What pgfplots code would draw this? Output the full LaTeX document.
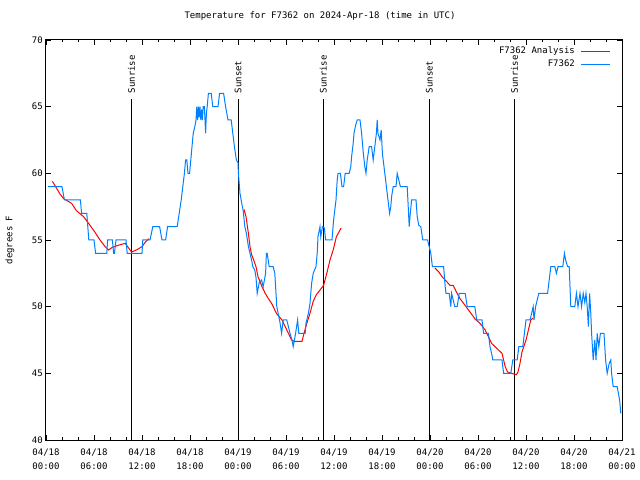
\documentclass[border=0pt]{standalone}
\usepackage{fontspec}
\setmainfont{DejaVu Sans Mono}
\usepackage{pgfplots}
\pgfplotsset{compat=1.18}
\definecolor{cred}{RGB}{255,0,0}
\definecolor{cblue}{RGB}{0,128,255}
\begin{document}
\fontsize{9bp}{11bp}\selectfont
\begin{tikzpicture}
\path[use as bounding box] (0,0) rectangle (640bp,480bp);
\begin{axis}[
  at={(46bp,40bp)}, anchor=south west,
  scale only axis, width=576bp, height=400bp,
  xmin=0, xmax=72, ymin=40, ymax=70,
  xtick={0,6,...,72}, minor x tick num=2,
  ytick={40,45,...,70},
  xticklabels={04/18\\00:00,04/18\\06:00,04/18\\12:00,04/18\\18:00,04/19\\00:00,04/19\\06:00,04/19\\12:00,04/19\\18:00,04/20\\00:00,04/20\\06:00,04/20\\12:00,04/20\\18:00,04/21\\00:00},
  xticklabel style={align=center, font=\fontsize{9bp}{14bp}\selectfont, yshift=-6bp},
  yticklabel style={font=\fontsize{9bp}{11bp}\selectfont},
  /pgf/number format/assume math mode=true,
  tick align=inside,
  major tick length=5bp, minor tick length=2.5bp,
  every tick/.style={black, line width=0.8bp},
  axis line style={line width=1bp},
  ylabel={degrees F},
  ylabel style={at={(axis description cs:-0.0625,0.5)}, anchor=center, font=\fontsize{9bp}{11bp}\selectfont},
  title={Temperature for F7362 on 2024-Apr-18 (time in UTC)},
  title style={at={(axis description cs:0.4757,1.04)}, anchor=base, font=\fontsize{9bp}{11bp}\selectfont},
  legend plot pos=right,
  legend cell align=right,
  legend image code/.code={\draw[#1, line width=1bp] (0bp,0bp) -- (29bp,0bp);},
  legend style={draw=none, fill=none, at={(axis description cs:0.981,0.986)}, anchor=north east,
    inner sep=0pt, row sep=2bp, column sep=5bp, font=\fontsize{9bp}{11bp}\selectfont,
    nodes={inner sep=1bp, text height=7bp, text depth=2bp}},
]
% sunrise / sunset markers
\addplot[black, line width=1bp, forget plot] coordinates {(10.7,40) (10.7,65.6)};
\addplot[black, line width=1bp, forget plot] coordinates {(24.02,40) (24.02,65.6)};
\addplot[black, line width=1bp, forget plot] coordinates {(34.66,40) (34.66,65.6)};
\addplot[black, line width=1bp, forget plot] coordinates {(47.92,40) (47.92,65.6)};
\addplot[black, line width=1bp, forget plot] coordinates {(58.55,40) (58.55,65.6)};
\node[rotate=90, anchor=west, inner sep=0pt] at (axis cs:10.7,66.0) {Sunrise};
\node[rotate=90, anchor=west, inner sep=0pt] at (axis cs:24.02,66.0) {Sunset};
\node[rotate=90, anchor=west, inner sep=0pt] at (axis cs:34.66,66.0) {Sunrise};
\node[rotate=90, anchor=west, inner sep=0pt] at (axis cs:47.92,66.0) {Sunset};
\node[rotate=90, anchor=west, inner sep=0pt] at (axis cs:58.55,66.0) {Sunrise};
% analysis
\addplot[cred, line width=1bp, unbounded coords=jump] coordinates {
(0.8,59.4)(1.2,59)(1.75,58.45)(2.2,58.1)(3.2,57.75)(3.8,57.2)(4.7,56.75)(5.5,56.1)(6.1,55.6)(6.75,55)(7.4,54.5)(7.8,54.25)(8.3,54.45)(9.0,54.6)(9.9,54.75)(10.2,54.5)(10.7,54.1)(11.3,54.25)(12.0,54.5)(12.5,54.9)(12.9,55.1)
(13.0,nan)
(24.75,57.3)(25.0,56.75)(25.3,55.5)(25.5,54.5)(25.7,53.9)(25.9,53.6)(26.25,53)(26.5,52.25)(27.0,51.5)(27.4,51)(27.8,50.6)(28.2,50.25)(28.8,49.5)(29.5,49)(29.9,48.5)(30.3,48)(30.7,47.5)(31.0,47.4)(32.0,47.4)(32.25,48)(32.6,48.75)(33.0,49.5)(33.4,50.4)(33.8,50.9)(34.25,51.25)(34.7,51.6)(35.1,52.5)(35.5,53.5)(35.9,54.25)(36.3,55.25)(36.9,55.9)
(37.0,nan)
(48.6,52.9)(49.1,52.6)(49.5,52.25)(49.9,52)(50.5,51.6)(50.9,51.6)(51.3,51.1)(51.75,50.6)(52.2,50.25)(53.0,49.6)(53.6,49.1)(54.25,48.75)(54.9,48.25)(55.3,47.75)(55.7,47.25)(56.3,46.9)(57.0,46.5)(57.4,45.5)(57.7,45.1)(58.2,45)(58.8,44.9)(59.0,45.1)(59.25,45.75)(59.5,46.6)(59.75,47.05)(60.0,47.5)(60.2,48)(60.4,48.5)(60.6,49)(60.9,49.15)
};
\addlegendentry{F7362 Analysis}
% observations
\addplot[cblue, line width=1bp] coordinates {
(0.25,59)(2.0,59)(2.3,58)(4.3,58)(4.45,57)(5.1,57)(5.35,55)(6.0,55)(6.2,54)(7.6,54)(7.7,55)(8.3,55)(8.45,54)(8.55,54)(8.75,55)(10.0,55)(10.15,54)(12.0,54)(12.1,55)(13.0,55)(13.35,56)(14.2,56)(14.5,55)(14.95,55)(15.2,56)(16.4,56)(16.65,57)(16.9,58)(17.1,59)(17.3,60)(17.45,61)(17.6,61)(17.75,60)(17.95,60)(18.1,61)(18.25,62)(18.4,63)(18.6,63.5)(18.75,64)(18.85,65)(18.95,64)(19.05,65)(19.15,64.2)(19.25,65)(19.35,64)(19.45,64.8)(19.55,64)(19.65,65)(19.8,65)(19.95,63)(20.05,64.5)(20.15,65)(20.3,66)(20.65,66)(20.85,65)(21.5,65)(21.7,66)(22.2,66)(22.45,65)(22.75,64)(23.15,64)(23.35,63)(23.55,62)(23.8,61)(24.0,60.8)(24.05,60)
(24.25,58.5)(24.45,57.8)(24.65,57.2)(24.85,56)(25.05,55.5)(25.3,54.5)(25.5,54)(25.7,53.5)(25.85,53)(26.1,52.75)(26.25,52.2)(26.4,51)(26.65,51.8)(26.95,52)(27.15,51.5)(27.45,52.5)(27.55,54)(27.65,54)(27.9,53)(28.4,53)(28.6,52.5)(28.85,50)(29.05,49.4)(29.25,48.8)(29.45,48)(29.65,49)(30.1,49)(30.3,48.5)(30.5,48)(30.75,47.5)(30.9,47)(31.2,48)(31.45,49)(31.6,48)(32.4,48)(32.5,48.75)(32.8,49.5)(33.0,50.25)(33.2,51.75)(33.4,52.5)(33.75,53)(33.9,54)(34.0,55.25)(34.25,56)(34.35,55.25)(34.55,56)(34.8,55.9)(34.95,55)(35.75,55)(35.95,56.5)(36.25,58)(36.4,59.5)(36.5,60)(36.8,60)(37.0,59)(37.2,59)(37.4,60)(37.9,60)(38.1,60.5)(38.2,61.25)(38.4,62.25)(38.5,63)(38.7,63.6)(38.9,64)(39.25,64)(39.45,63)(39.65,61.6)(39.85,60.5)(40.0,60)(40.15,61)(40.4,62)(40.7,62)(40.9,61)(41.1,62)(41.3,63)(41.4,64)(41.5,63)(41.75,62.5)(41.9,63.25)(42.05,61.5)(42.25,60.5)(42.45,59.5)(42.6,58.75)(42.8,57.75)(42.95,57)(43.1,57.5)(43.2,58.25)(43.4,59)(43.75,59)(43.9,60)(44.1,59.5)(44.3,59)(45.15,59)(45.3,57.25)(45.4,56)(45.5,56.75)(45.7,58)(46.25,58)(46.4,56.75)(46.6,56.1)(46.85,56)(47.1,55)(47.7,55)(47.9,54.5)(48.1,54)(48.3,53)(49.7,53)(49.9,51.5)(50.0,51)(50.4,51)(50.6,50)(50.7,51)(50.9,50.5)(51.1,50)(51.4,50)(51.65,51)(52.4,51)(52.65,50)(53.6,50)(53.85,49)(54.5,49)(54.7,48)(55.3,48)(55.5,47)(55.7,46.5)(55.85,46)(57.0,46)(57.2,45)(58.1,45)(58.35,46)(58.9,46)(59.1,47)(59.6,47)(59.8,48)(60.0,49)(60.5,49)(60.7,49.5)(60.9,50)(61.0,49)(61.2,50)(61.4,50.5)(61.6,51)(62.7,51)(62.9,52)(63.1,53)(63.6,53)(63.8,52.5)(64.0,53)(64.6,53)(64.8,54)(64.95,53.5)(65.2,53)(65.4,53)(65.6,50)(66.1,50)(66.3,51)(66.5,50)(66.75,51)(66.95,50)(67.15,51)(67.35,50.3)(67.5,51)(67.65,50)(67.8,48.5)(67.95,51)(68.1,49.5)(68.2,48)(68.4,46)(68.6,47.5)(68.75,46)(68.9,48)(69.1,47)(69.3,48)(69.75,48)(69.95,46)(70.15,45)(70.4,45.75)(70.6,46)(70.7,45)(70.9,44)(71.4,44)(71.55,43.5)(71.7,43)(71.85,42)
};
\addlegendentry{F7362}
\end{axis}
\end{tikzpicture}
\end{document}
